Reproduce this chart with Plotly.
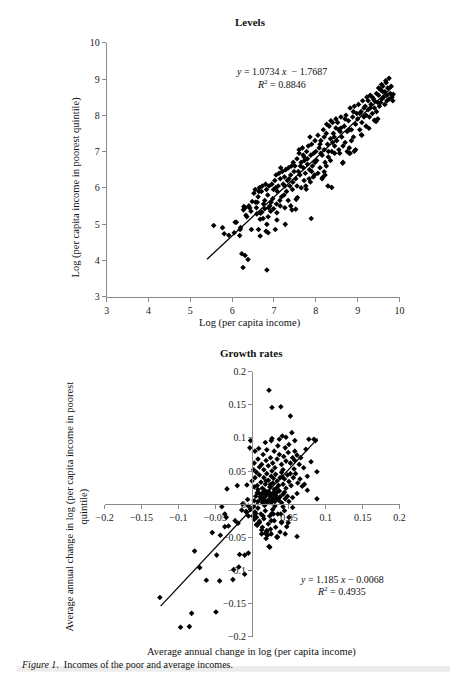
import plotly.graph_objects as go

# ---- Levels panel (log per capita income vs log income of poorest quintile)
lev_x = [5.56, 5.77, 5.81, 5.92, 6.05, 6.07, 6.18, 6.19, 6.23, 6.31, 6.38, 6.26, 6.83, 7.89,
         6.46, 6.63, 6.67, 6.81, 6.83, 6.86, 7.03, 7.07, 7.27, 6.67, 6.59, 6.33, 6.31, 6.42,
         6.27, 6.71, 6.78, 6.87, 6.99, 7.07, 7.15, 7.26, 7.43, 7.52, 7.53, 7.56, 7.77, 7.87,
         7.97, 8.20, 8.16, 8.38, 8.29, 8.64, 8.80, 8.92, 9.09, 9.27, 9.40, 9.44,
         6.10, 6.20, 6.35, 6.40, 6.45, 6.28, 6.48,
         6.52, 6.55, 6.60, 6.62, 6.65, 6.70, 6.72, 6.75, 6.78, 6.80, 6.82, 6.85, 6.88, 6.90,
         6.92, 6.95, 6.97, 6.58, 6.68, 6.74, 6.86, 6.93, 6.56, 6.64, 6.99,
         7.02, 7.05, 7.08, 7.10, 7.12, 7.15, 7.18, 7.20, 7.22, 7.25, 7.28, 7.30, 7.32, 7.35,
         7.38, 7.40, 7.42, 7.45, 7.48, 7.06, 7.14, 7.24, 7.34, 7.44, 7.16, 7.26, 7.36, 7.46,
         7.04, 7.40,
         7.50, 7.52, 7.55, 7.58, 7.60, 7.62, 7.65, 7.68, 7.70, 7.72, 7.75, 7.78, 7.80, 7.82,
         7.85, 7.88, 7.90, 7.92, 7.95, 7.98, 7.55, 7.65, 7.72, 7.84, 7.94, 7.60, 7.70, 7.80,
         7.90, 7.76, 7.98, 7.86, 7.63, 7.73,
         8.00, 8.02, 8.05, 8.08, 8.10, 8.12, 8.15, 8.18, 8.20, 8.22, 8.25, 8.28, 8.30, 8.32,
         8.35, 8.38, 8.40, 8.42, 8.45, 8.48, 8.05, 8.15, 8.25, 8.35, 8.45, 8.10, 8.20, 8.30,
         8.40, 8.48, 8.22, 8.26, 8.36, 8.44, 8.12,
         8.50, 8.52, 8.55, 8.58, 8.60, 8.62, 8.65, 8.68, 8.70, 8.72, 8.75, 8.78, 8.80, 8.82,
         8.85, 8.88, 8.90, 8.92, 8.95, 8.98, 8.55, 8.65, 8.75, 8.85, 8.95, 8.60, 8.70, 8.80,
         8.90, 8.57, 8.82,
         9.00, 9.02, 9.05, 9.08, 9.10, 9.12, 9.15, 9.18, 9.20, 9.22, 9.25, 9.28, 9.30, 9.32,
         9.35, 9.38, 9.40, 9.42, 9.45, 9.48, 9.05, 9.15, 9.25, 9.35, 9.45, 9.10, 9.20, 9.30,
         9.40, 9.48,
         9.50, 9.52, 9.55, 9.58, 9.60, 9.62, 9.65, 9.68, 9.70, 9.72, 9.75, 9.78, 9.80, 9.82,
         9.84, 9.85, 9.55, 9.65, 9.60, 9.70, 9.50, 9.75, 9.57, 9.67]
lev_y = [4.96, 4.90, 4.73, 4.69, 4.76, 5.05, 4.68, 4.85, 4.18, 4.13, 4.02, 3.80, 3.73, 5.15,
         4.85, 4.85, 4.67, 4.80, 4.99, 4.76, 4.85, 5.11, 4.99, 5.13, 5.28, 5.24, 5.45, 5.44,
         5.39, 5.33, 5.42, 5.45, 5.42, 5.31, 5.50, 5.45, 5.39, 5.41, 5.68, 5.73, 5.96, 6.16,
         6.35, 6.44, 6.28, 6.01, 6.05, 6.68, 6.95, 7.01, 7.46, 7.64, 7.86, 7.83,
         5.05, 4.90, 5.20, 5.50, 5.35, 5.48, 5.62,
         5.85, 5.95, 5.60, 5.75, 6.00, 5.90, 6.05, 5.55, 5.65, 6.10, 5.95, 5.80, 6.05, 5.50,
         5.35, 6.10, 5.70, 5.45, 5.30, 5.15, 5.20, 5.60, 5.60, 5.90, 5.95,
         6.20, 6.35, 5.90, 6.05, 6.40, 6.25, 5.75, 6.45, 6.10, 6.30, 6.50, 5.90, 6.20, 6.55,
         6.05, 6.35, 6.60, 6.15, 6.45, 5.55, 5.65, 5.80, 5.65, 5.95, 6.55, 6.05, 6.25, 6.70,
         6.00, 5.50,
         6.60, 6.25, 6.80, 6.45, 6.95, 6.35, 6.70, 7.10, 6.55, 6.85, 6.40, 7.00, 6.65, 7.15,
         6.50, 6.90, 7.20, 6.60, 6.95, 6.70, 6.05, 6.00, 6.20, 6.25, 6.30, 7.05, 6.90, 6.80,
         6.45, 6.05, 7.30, 7.40, 6.60, 6.75,
         7.00, 6.75, 7.45, 7.10, 6.55, 7.30, 6.90, 7.60, 7.05, 6.70, 7.50, 7.20, 6.85, 7.70,
         7.35, 7.00, 7.80, 7.50, 7.15, 7.65, 6.40, 6.25, 6.60, 6.75, 6.95, 7.20, 7.40, 7.00,
         7.25, 7.90, 6.35, 7.75, 7.85, 7.40, 6.95,
         7.30, 7.80, 7.05, 7.55, 7.95, 7.40, 6.70, 7.70, 7.25, 8.00, 7.55, 7.85, 7.10, 8.20,
         7.60, 7.95, 7.40, 8.25, 7.75, 8.05, 7.60, 7.15, 7.00, 7.30, 7.05, 7.65, 7.90, 7.60,
         8.10, 6.95, 6.95,
         7.90, 8.30, 7.60, 8.10, 7.45, 8.40, 7.95, 8.25, 7.70, 8.50, 8.15, 7.95, 8.55, 8.30,
         8.05, 8.45, 8.20, 7.85, 8.60, 8.35, 8.05, 8.20, 8.40, 8.50, 8.10, 7.80, 8.00, 8.20,
         8.40, 7.90,
         8.55, 8.25, 8.70, 8.45, 8.80, 8.50, 8.65, 8.90, 8.40, 8.75, 9.02, 8.60, 8.80, 8.50,
         8.40, 8.58, 8.35, 8.30, 8.65, 8.55, 8.75, 8.45, 8.85, 8.95]
lev_fit_x = [5.40, 9.85]
lev_fit_y = [4.03, 8.80]

# ---- Growth rates panel
gr_x = [0.023, 0.027, 0.039, 0.052, -0.002, -0.003, 0.004, 0.009, 0.018, 0.026, 0.027,
        0.037, 0.041, 0.046, 0.054, 0.058, 0.077, 0.084, 0.086, 0.073, 0.058, 0.080, 0.088,
        0.088, 0.075, 0.061, -0.034, 0.061, 0.034, 0.024, -0.020, -0.007,
        0.002, 0.006, 0.010, 0.013, 0.016, 0.019, 0.022, 0.025, 0.028, 0.031, 0.034, 0.037,
        0.040, 0.043, 0.046, 0.049, 0.052, 0.055, 0.058, 0.061, 0.064, 0.008, 0.015, 0.030,
        0.045, 0.035, 0.020, 0.050, 0.066, 0.070, 0.003, 0.027, 0.042, 0.057,
        0.000, 0.004, 0.007, 0.010, 0.012, 0.014, 0.016, 0.018, 0.020, 0.022, 0.024, 0.026,
        0.028, 0.030, 0.032, 0.034, 0.036, 0.038, 0.040, 0.042, 0.044, 0.046, 0.048, 0.050,
        0.053, 0.056, 0.059, 0.062, 0.065, 0.068, 0.071, 0.075, 0.008, 0.017, 0.025, 0.033,
        0.041, 0.052, 0.003, 0.029, 0.019, 0.037,
        0.005, 0.008, 0.010, 0.012, 0.014, 0.015, 0.017, 0.019, 0.020, 0.022, 0.023, 0.025,
        0.026, 0.028, 0.029, 0.031, 0.032, 0.034, 0.036, 0.038, 0.040, 0.042, 0.045, 0.048,
        0.011, 0.018, 0.021, 0.024, 0.027, 0.030, 0.013, 0.016, 0.033, 0.003, 0.007, 0.050,
        0.055, 0.044,
        -0.005, -0.002, 0.002, 0.004, 0.006, 0.008, 0.010, 0.012, 0.014, 0.016, 0.018, 0.020,
        0.022, 0.024, 0.026, 0.028, 0.030, 0.032, 0.035, 0.038, 0.040, 0.044, 0.047, 0.050,
        0.055, 0.013, 0.019, 0.025, 0.007, 0.001, 0.034, 0.042, 0.017, 0.029, -0.008, 0.045,
        -0.125, -0.097, -0.085, -0.082, -0.049, -0.078, -0.071, -0.062, -0.044, -0.026,
        -0.054, -0.048, -0.043, -0.037, -0.032, -0.041, -0.037, -0.035, -0.023, -0.019,
        -0.017, -0.010, -0.005, -0.025, -0.018, -0.010, -0.014, -0.008, -0.005, 0.003,
        0.006, 0.010, 0.013, 0.018, 0.023, 0.034, 0.015, 0.027, 0.031, 0.039, -0.006,
        -0.013, 0.020, 0.021, 0.040, 0.049, 0.026, 0.005]
gr_y = [0.172, 0.146, 0.147, 0.133, 0.096, 0.085, 0.080, 0.084, 0.093, 0.096, 0.099,
        0.098, 0.103, 0.101, 0.108, 0.096, 0.098, 0.098, 0.096, 0.083, 0.080, 0.064, 0.049,
        0.008, 0.021, 0.016, 0.023, -0.049, -0.050, -0.065, 0.028, 0.029,
        0.052, 0.048, 0.056, 0.060, 0.052, 0.066, 0.058, 0.070, 0.062, 0.055, 0.068, 0.075,
        0.060, 0.072, 0.065, 0.078, 0.062, 0.070, 0.066, 0.074, 0.060, 0.068, 0.075, 0.080,
        0.085, 0.088, 0.082, 0.090, 0.070, 0.055, 0.062, 0.050, 0.052, 0.053,
        0.035, 0.040, 0.028, 0.044, 0.033, 0.024, 0.040, 0.030, 0.046, 0.036, 0.026, 0.042,
        0.032, 0.022, 0.045, 0.035, 0.028, 0.040, 0.048, 0.030, 0.038, 0.024, 0.044, 0.034,
        0.028, 0.040, 0.046, 0.032, 0.038, 0.027, 0.030, 0.042, 0.022, 0.021, 0.030, 0.024,
        0.041, 0.046, 0.026, 0.039, 0.035, 0.020,
        0.012, 0.004, 0.016, 0.008, 0.002, 0.018, 0.010, 0.004, 0.014, 0.019, 0.007, 0.012,
        0.002, 0.016, 0.009, 0.004, 0.013, 0.018, 0.006, 0.011, 0.002, 0.015, 0.008, 0.012,
        0.011, 0.015, 0.003, 0.017, 0.006, 0.017, 0.014, 0.006, 0.009, 0.005, 0.017, 0.004,
        0.010, 0.018,
        -0.003, -0.008, -0.004, -0.012, -0.020, -0.006, -0.028, -0.015, -0.035, -0.022,
        -0.010, -0.040, -0.030, -0.018, -0.045, -0.008, -0.025, -0.035, -0.015, -0.042,
        -0.028, -0.010, -0.034, -0.020, -0.005, -0.045, -0.052, -0.038, -0.032, -0.018,
        -0.050, -0.004, -0.002, -0.015, -0.012, -0.045,
        -0.141, -0.186, -0.185, -0.165, -0.163, -0.071, -0.096, -0.115, -0.116, -0.114,
        -0.043, -0.077, -0.047, -0.034, -0.033, -0.004, -0.015, -0.020, -0.025, -0.029,
        -0.076, -0.077, -0.074, -0.099, -0.095, -0.106, -0.009, -0.011, -0.018, -0.023,
        -0.031, -0.026, -0.039, -0.044, -0.064, -0.049, -0.018, -0.014, -0.003, -0.015,
        0.007, 0.000, -0.042, -0.047, -0.027, -0.028, -0.025, -0.014]
gr_fit_x = [-0.124, 0.089]
gr_fit_y = [-0.154, 0.099]

lev_ticks = [3, 4, 5, 6, 7, 8, 9, 10]
gr_xticks = [-0.2, -0.15, -0.1, -0.05, 0.05, 0.1, 0.15, 0.2]
gr_yticks = [-0.2, -0.15, -0.1, -0.05, 0, 0.05, 0.1, 0.15, 0.2]

# page body keeps its 8px margin, so the figure is sized to fit the window inside it
PAD = 8
W, H = 464 - 2 * PAD, 680 - 2 * PAD
SERIF = "Liberation Serif"
AX = "#8a8a8a"

# the photographed page comes out slightly shrunk and shifted; undo that here
SX, OX = 0.957, 13.6
SY, OY = 0.979, 7.5


# helpers: wanted pixel position in the photo -> paper fraction
def px(x):
    return ((x - OX) / SX - PAD) / W


def py(y):
    return 1 - ((y - OY) / SY - PAD) / H


def fmt(v):
    s = ("%g" % v)
    return s.replace("-", "\u2212")


fig = go.Figure()

fig.add_trace(go.Scatter(x=lev_x, y=lev_y, mode="markers", xaxis="x", yaxis="y",
                         marker=dict(symbol="diamond", size=4.3, color="black"),
                         showlegend=False))
fig.add_trace(go.Scatter(x=lev_fit_x, y=lev_fit_y, mode="lines", xaxis="x", yaxis="y",
                         line=dict(color="black", width=1.3), showlegend=False))
fig.add_trace(go.Scatter(x=gr_x, y=gr_y, mode="markers", xaxis="x2", yaxis="y2",
                         marker=dict(symbol="diamond", size=4.3, color="black"),
                         showlegend=False))
fig.add_trace(go.Scatter(x=gr_fit_x, y=gr_fit_y, mode="lines", xaxis="x2", yaxis="y2",
                         line=dict(color="black", width=1.3), showlegend=False))

axis_common = dict(showgrid=False, zeroline=False, showline=True, linecolor=AX,
                   linewidth=1, ticks="outside", ticklen=4, tickcolor=AX,
                   tickfont=dict(family=SERIF, size=10, color="#222"))

fig.update_layout(
    width=W, height=H,
    margin=dict(l=0, r=0, t=0, b=0),
    paper_bgcolor="white", plot_bgcolor="white",
    xaxis=dict(axis_common, domain=[px(110), px(400)], range=[3, 10], anchor="y",
               tickvals=lev_ticks, ticktext=[str(t) for t in lev_ticks]),
    yaxis=dict(axis_common, domain=[py(297), py(44)], range=[3, 10], anchor="x",
               tickvals=lev_ticks, ticktext=[str(t) for t in lev_ticks]),
    xaxis2=dict(axis_common, domain=[px(108), px(400)], range=[-0.2, 0.2],
                anchor="free", position=py(504.3),
                tickvals=gr_xticks, ticktext=[fmt(t) for t in gr_xticks]),
    yaxis2=dict(axis_common, domain=[py(636), py(372)], range=[-0.2, 0.2],
                anchor="free", position=px(254),
                tickvals=gr_yticks, ticktext=[fmt(t) for t in gr_yticks]),
)


def note(text, x, y, size=10.5, angle=0, bold=False, xanchor="center"):
    if bold:
        text = "<b>" + text + "</b>"
    fig.add_annotation(text=text, x=px(x), y=py(y), xref="paper", yref="paper",
                       showarrow=False, textangle=angle, xanchor=xanchor, yanchor="middle",
                       font=dict(family=SERIF, size=size, color="#111"))


note("Levels", 252, 23, size=11, bold=True)
note("Log (per capita income)", 252, 323, size=10.5)
note("Log (per capita income in poorest quintile)", 80, 188, size=10.5, angle=-90)
note("<i>y</i> = 1.0734 <i>x</i>  \u2212 1.7687", 283, 73, size=10)
note("<i>R</i><sup>2</sup> = 0.8846", 283, 85, size=10)

note("Growth rates", 253, 353, size=11, bold=True)
note("Average annual change in log (per capita income)", 253, 651, size=10.5)
note("Average annual change in log (per capita income in poorest<br>quintile)",
     81, 506, size=10.5, angle=-90)
note("<i>y</i> = 1.185 <i>x</i> \u2212 0.0068", 343, 579, size=10)
note("<i>R</i><sup>2</sup> = 0.4935", 343, 591, size=10)

note("<i>Figure 1</i>.  Incomes of the poor and average incomes.", 23, 664, size=10,
     xanchor="left")

fig.add_shape(type="rect", xref="paper", yref="paper", x0=0, x1=1, y0=0, y1=py(671),
              fillcolor="#ececec", line=dict(width=0), layer="below")

fig.write_html("out.html", config={"displayModeBar": False})
